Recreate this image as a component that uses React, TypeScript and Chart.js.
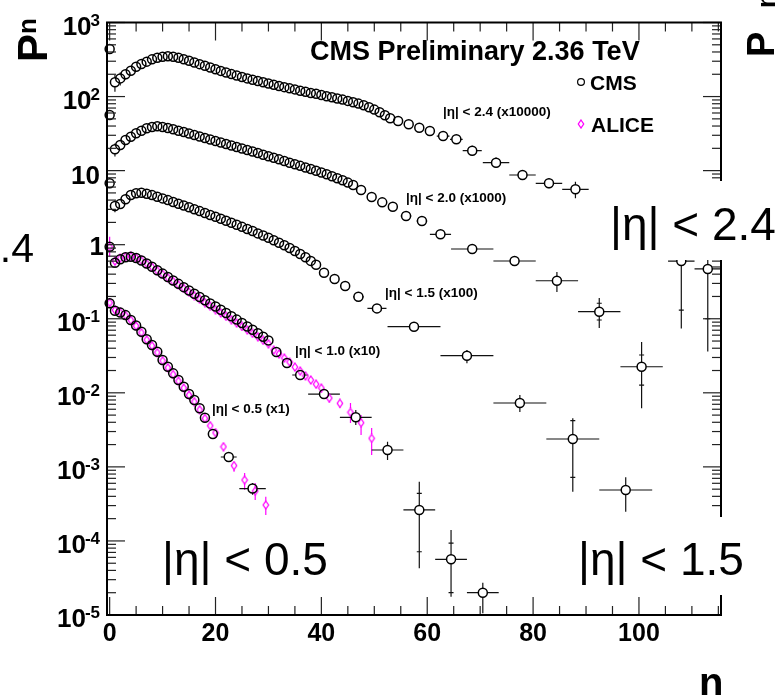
import React, { useEffect, useRef } from "react";
import { Chart, registerables } from "chart.js";

Chart.register(...registerables);

// Each row: [n, P(n), bin half-width, total low, total high, stat low, stat high]
type Pt = number[];

const FONT = '"Liberation Sans", Arial, Helvetica, sans-serif';

const xTickValues = [0, 20, 40, 60, 80, 100];
const yExponents = [-5, -4, -3, -2, -1, 0, 1, 2, 3];

// CMS |eta| < 2.4, scaled x10000
const cms24: Pt[] = [
  [0, 439], [1, 156, 0, 116, 195], [2, 176, 0, 141, 211], [3, 200, 0, 170, 230],
  [4, 223, 0, 197, 250], [5, 253, 0, 228, 278], [6, 275, 0, 253, 297], [7, 296, 0, 278, 314],
  [8, 318], [9, 335], [10, 345], [11, 350], [12, 344], [13, 334], [14, 319], [15, 304],
  [16, 289], [17, 274], [18, 260], [19, 247], [20, 234], [21, 222], [22, 211], [23, 201],
  [24, 192], [25, 184], [26, 176], [27, 169], [28, 162], [29, 156], [30, 150], [31, 144],
  [32, 139], [33, 134], [34, 129], [35, 125], [36, 120], [37, 116], [38, 112], [39, 109],
  [40, 105], [41, 101], [42, 98.0], [43, 94.4], [44, 91.0], [45, 87.4], [46, 83.9], [47, 80.3],
  [48, 76.4], [49, 71.8], [50, 66.7], [51, 61.3], [52, 56.0], [53, 50.9],
  [54.5, 46.8], [56.5, 42.2], [58.5, 38.0], [60.5, 34.3], [63, 29.3, 1.2], [65.5, 26.5, 1.2],
  [68.5, 18.6, 1.8, 15.9, 21.7], [73, 12.8, 2.5, 11.0, 15.0], [78, 8.73, 2.5, 7.5, 10.2],
  [83, 6.74, 2.5, 5.8, 7.9], [88, 5.59, 2.5, 4.23, 7.09],
  [108, 0.6, 2.5, 0.074, 1.6, 0.131, 1.2], [113, 0.47, 2.5, 0.036, 1.4, 0.1, 1.0],
];

// CMS |eta| < 2.0, scaled x1000
const cms20: Pt[] = [
  [0, 56.4], [1, 19.4, 0, 15.5, 23.3], [2, 22.2, 0, 18.8, 25.6], [3, 25.9, 0, 23.0, 29.0],
  [4, 28.7, 0, 26.5, 31.0], [5, 31.9], [6, 34.6], [7, 37.3], [8, 38.8], [9, 39.7], [10, 38.8],
  [11, 37.6], [12, 36.1], [13, 34.6], [14, 33.2], [15, 31.7], [16, 30.3], [17, 28.9], [18, 27.6],
  [19, 26.3], [20, 25.1], [21, 24.0], [22, 22.9], [23, 21.8], [24, 20.8], [25, 19.9], [26, 19.0],
  [27, 18.1], [28, 17.3], [29, 16.4], [30, 15.6], [31, 14.9], [32, 14.2], [33, 13.5], [34, 12.8],
  [35, 12.2], [36, 11.6], [37, 11.0], [38, 10.5], [39, 9.98], [40, 9.43], [41, 8.92], [42, 8.41],
  [43, 7.9], [44, 7.4], [45, 6.89], [46, 6.4],
  [47.5, 5.47], [49.5, 4.4], [51.5, 3.73], [53.5, 3.26], [56, 2.44, 1], [59, 2.09, 1], [62.5, 1.38, 2],
  [68.5, 0.874, 4, 0.8, 0.95], [76.5, 0.602, 4, 0.53, 0.68], [84.5, 0.326, 4, 0.23, 0.428],
  [92.5, 0.1245, 4, 0.075, 0.19, 0.0962, 0.162], [100.5, 0.0225, 4, 0.0062, 0.0485, 0.0127, 0.0324],
];

// CMS |eta| < 1.5, scaled x100
const cms15: Pt[] = [
  [0, 6.74], [1, 3.33, 0, 2.75, 3.95], [2, 3.54, 0, 3.1, 4.0], [3, 4.1, 0, 3.8, 4.4], [4, 4.69],
  [5, 4.94], [6, 5.03], [7, 4.88], [8, 4.67], [9, 4.44], [10, 4.22], [11, 4.0], [12, 3.78],
  [13, 3.58], [14, 3.38], [15, 3.2], [16, 3.01], [17, 2.84], [18, 2.68], [19, 2.52], [20, 2.38],
  [21, 2.24], [22, 2.11], [23, 1.98], [24, 1.86], [25, 1.74], [26, 1.63], [27, 1.53], [28, 1.42],
  [29, 1.33], [30, 1.24], [31, 1.15], [32, 1.06], [33, 0.981], [34, 0.902], [35, 0.824],
  [36, 0.748], [37, 0.675], [38, 0.604], [39, 0.537],
  [40.5, 0.419], [42.5, 0.344], [44.5, 0.277], [47, 0.198, 1], [50.5, 0.138, 1.8],
  [57.5, 0.0781, 5, 0.071, 0.086], [67.5, 0.0317, 5, 0.025, 0.0378], [77.5, 0.00728, 5, 0.0055, 0.00934],
  [87.5, 0.00238, 5, 0.000462, 0.00453, 0.000723, 0.0042], [97.5, 0.000487, 5, 0.000248, 0.000723],
];

// CMS |eta| < 1.0, scaled x10
const cms10: Pt[] = [
  [0, 0.939], [1, 0.571], [2, 0.635], [3, 0.675], [4, 0.688], [5, 0.661], [6, 0.612], [7, 0.557],
  [8, 0.503], [9, 0.452], [10, 0.407], [11, 0.366], [12, 0.329], [13, 0.296], [14, 0.267],
  [15, 0.241], [16, 0.217], [17, 0.197], [18, 0.178], [19, 0.161], [20, 0.146], [21, 0.132],
  [22, 0.1195], [23, 0.108], [24, 0.0974], [25, 0.0876], [26, 0.0788], [27, 0.0709], [28, 0.0636],
  [29, 0.057], [30, 0.051],
  [31.5, 0.0356], [33.5, 0.0253], [36, 0.0174, 1.5], [40.5, 0.00963, 3, 0.0085, 0.0109],
  [46.5, 0.00467, 3, 0.00368, 0.00586], [52.5, 0.00169, 3, 0.00124, 0.00219],
  [58.5, 0.000262, 3, 0.0000427, 0.00063, 0.0000715, 0.00044],
  [64.5, 0.0000565, 3, 0.0000177, 0.00014, 0.00002, 0.0000937],
  [70.5, 0.00002, 3, 0.0000106, 0.0000273],
];

// CMS |eta| < 0.5
const cms05: Pt[] = [
  [0, 0.162], [1, 0.128], [2, 0.121], [3, 0.112], [4, 0.0962], [5, 0.081], [6, 0.0668],
  [7, 0.0528], [8, 0.0442], [9, 0.0359], [10, 0.0277], [11, 0.0225], [12, 0.0183], [13, 0.0149],
  [14, 0.0121], [15, 0.00963], [16, 0.00799], [17, 0.00618], [18, 0.00461],
  [19.5, 0.00278], [22.5, 0.00136, 1.5, 0.00122, 0.00151], [27, 0.00051, 2.5, 0.00042, 0.000605],
];

// ALICE |eta| < 1.0, scaled x10
const alice10: Pt[] = [
  [0, 0.93, 0, 0.69, 1.28], [1, 0.6, 0, 0.55, 0.65], [2, 0.655, 0, 0.62, 0.69], [3, 0.69, 0, 0.66, 0.72],
  [4, 0.695], [5, 0.665], [6, 0.612], [7, 0.555], [8, 0.5], [9, 0.447], [10, 0.4], [11, 0.358],
  [12, 0.321], [13, 0.287], [14, 0.257], [15, 0.229, 0, 0.22, 0.238], [16, 0.205, 0, 0.197, 0.213],
  [17, 0.184, 0, 0.177, 0.191], [18, 0.165, 0, 0.158, 0.172], [19, 0.148, 0, 0.142, 0.154],
  [20, 0.133, 0, 0.127, 0.139], [21, 0.12, 0, 0.115, 0.125], [22, 0.108, 0, 0.103, 0.113],
  [23, 0.097, 0, 0.092, 0.102], [24, 0.0875, 0, 0.083, 0.092], [25, 0.0787, 0, 0.0745, 0.0829],
  [26, 0.0708, 0, 0.067, 0.0746], [27, 0.0636, 0, 0.0601, 0.0671], [28, 0.0571, 0, 0.0539, 0.0603],
  [29, 0.0512, 0, 0.0483, 0.0541], [30, 0.0459, 0, 0.0435, 0.0485], [31, 0.0378, 0, 0.0355, 0.0402],
  [32, 0.0334, 0, 0.0312, 0.0357], [33, 0.0295, 0, 0.0274, 0.0317], [34, 0.0261, 0, 0.0241, 0.0282],
  [35, 0.0223, 0, 0.0205, 0.0242], [36, 0.0197, 0, 0.0179, 0.0216], [37, 0.0169, 0, 0.0152, 0.0187],
  [38, 0.0149, 0, 0.0133, 0.0166], [39, 0.0131, 0, 0.0115, 0.0148], [40, 0.0116, 0, 0.0101, 0.0132],
  [41.5, 0.00851, 0, 0.0074, 0.0097], [43.5, 0.00721, 0, 0.0062, 0.008], [45.5, 0.00545, 0, 0.0039, 0.0073],
  [47.5, 0.00395, 0, 0.0027, 0.005], [49.5, 0.00243, 0, 0.00145, 0.00335],
];

// ALICE |eta| < 0.5
const alice05: Pt[] = [
  [0, 0.165], [1, 0.131], [2, 0.122], [3, 0.111], [4, 0.0955], [5, 0.08], [6, 0.065], [7, 0.052],
  [8, 0.0432], [9, 0.035], [10, 0.0271], [11, 0.0218], [12, 0.0177], [13, 0.0144], [14, 0.0116],
  [15, 0.0093], [16, 0.0076], [17, 0.0059, 0, 0.0055, 0.0063], [18, 0.0045, 0, 0.0042, 0.0048],
  [19, 0.0036, 0, 0.0033, 0.0039], [20, 0.0029, 0, 0.0027, 0.0032], [21.5, 0.00187, 0, 0.00168, 0.00207],
  [23.5, 0.00104, 0, 0.00086, 0.00117], [25.5, 0.000665, 0, 0.000487, 0.000826],
  [27.5, 0.000472, 0, 0.000357, 0.000605], [29.5, 0.000306, 0, 0.000224, 0.000395],
];

const cmsSeries = [cms24, cms20, cms15, cms10, cms05];
const aliceSeries = [alice10, alice05];

const seriesNames = [
  "|η| < 2.4 (x10000)",
  "|η| < 2.0 (x1000)",
  "|η| < 1.5 (x100)",
  "|η| < 1.0 (x10)",
  "|η| < 0.5 (x1)",
];
const titleText = "CMS Preliminary 2.36 TeV";
const legendNames = ["CMS", "ALICE"];
const panelNames = ["|η| < 2.4", "|η| < 0.5", "|η| < 1.5"];

const MAGENTA = "#ff00ff";

function makeDiamond(): HTMLCanvasElement {
  const c = document.createElement("canvas");
  c.width = 8;
  c.height = 10;
  const g = c.getContext("2d")!;
  g.strokeStyle = MAGENTA;
  g.lineWidth = 1.3;
  g.beginPath();
  g.moveTo(4, 1.0);
  g.lineTo(6.7, 5);
  g.lineTo(4, 9.0);
  g.lineTo(1.3, 5);
  g.closePath();
  g.stroke();
  return c;
}

function seg(ctx: CanvasRenderingContext2D, x1: number, y1: number, x2: number, y2: number) {
  ctx.beginPath();
  ctx.moveTo(x1, y1);
  ctx.lineTo(x2, y2);
  ctx.stroke();
}

function drawErrors(ctx: CanvasRenderingContext2D, xs: any, ys: any, rows: Pt[], color: string, gx: number, gy: number) {
  ctx.strokeStyle = color;
  ctx.lineWidth = 1.2;
  for (const r of rows) {
    const [n, p, dx, lo, hi, cLo, cHi] = r;
    const px = xs.getPixelForValue(n);
    const py = ys.getPixelForValue(p);
    if (dx) {
      const l = xs.getPixelForValue(n - dx);
      const rr = xs.getPixelForValue(n + dx);
      if (px - gx > l) seg(ctx, l, py, px - gx, py);
      if (rr > px + gx) seg(ctx, px + gx, py, rr, py);
    }
    if (lo && hi) {
      const top = ys.getPixelForValue(hi);
      const bot = ys.getPixelForValue(lo);
      if (top < py - gy) seg(ctx, px, top, px, py - gy);
      if (bot > py + gy) seg(ctx, px, py + gy, px, bot);
    }
    for (const c of [cLo, cHi]) {
      if (c) {
        const cy = ys.getPixelForValue(c);
        seg(ctx, px - 2.5, cy, px + 2.5, cy);
      }
    }
  }
}

function txt(ctx: CanvasRenderingContext2D, s: string, x: number, y: number, font: string, align: CanvasTextAlign = "left", color = "#000") {
  ctx.font = font;
  ctx.textAlign = align;
  ctx.textBaseline = "alphabetic";
  ctx.fillStyle = color;
  ctx.fillText(s, x, y);
}

function rotatedText(ctx: CanvasRenderingContext2D, s: string, x: number, y: number, font: string) {
  ctx.save();
  ctx.translate(x, y);
  ctx.rotate(-Math.PI / 2);
  txt(ctx, s, 0, 0, font);
  ctx.restore();
}

function makePlugin(diamond: HTMLCanvasElement) {
  return {
    id: "rootStyle",
    beforeDatasetsDraw(chart: any) {
      const { ctx, chartArea: a, scales } = chart;
      ctx.save();
      ctx.beginPath();
      ctx.rect(a.left, a.top, a.right - a.left, a.bottom - a.top);
      ctx.clip();
      for (const s of aliceSeries) drawErrors(ctx, scales.x, scales.y, s, MAGENTA, 2.7, 4);
      for (const s of cmsSeries) drawErrors(ctx, scales.x, scales.y, s, "#111", 4.5, 4.5);
      ctx.restore();
    },
    afterDatasetsDraw(chart: any) {
      const { ctx, chartArea: a, scales } = chart;
      const xs = scales.x;
      const ys = scales.y;
      ctx.save();

      // inward ticks on all four sides
      ctx.strokeStyle = "#222";
      ctx.lineWidth = 1.2;
      for (let v = 0; v <= 115; v += 5) {
        const px = xs.getPixelForValue(v);
        const len = v % 20 === 0 ? 18 : 9;
        seg(ctx, px, a.bottom, px, a.bottom - len);
        seg(ctx, px, a.top, px, a.top + len);
      }
      for (const e of yExponents) {
        const py = ys.getPixelForValue(Math.pow(10, e));
        seg(ctx, a.left, py, a.left + 18, py);
        seg(ctx, a.right, py, a.right - 18, py);
        if (e < 3) {
          for (let m = 2; m <= 9; m++) {
            const pm = ys.getPixelForValue(m * Math.pow(10, e));
            seg(ctx, a.left, pm, a.left + 9, pm);
            seg(ctx, a.right, pm, a.right - 9, pm);
          }
        }
      }

      // frame
      ctx.strokeStyle = "#000";
      ctx.lineWidth = 2;
      ctx.strokeRect(a.left, a.top, a.right - a.left, a.bottom - a.top);

      // y tick labels with exponents
      const base = `bold 26px ${FONT}`;
      const sup = `bold 17px ${FONT}`;
      for (const e of yExponents) {
        const py = ys.getPixelForValue(Math.pow(10, e));
        if (e === 0) {
          txt(ctx, "1", 104, py + 10, base, "right");
        } else if (e === 1) {
          txt(ctx, "10", 100, py + 13, base, "right");
        } else {
          ctx.font = sup;
          const s = String(e);
          const w = ctx.measureText(s).width;
          txt(ctx, "10", 100 - w + 1, py + 12.3, base, "right");
          txt(ctx, s, 100 - w, py + 3.2, sup, "left");
        }
      }

      // title and legend
      txt(ctx, titleText, 310, 59.5, `bold 27px ${FONT}`);
      ctx.strokeStyle = "#000";
      ctx.lineWidth = 1.2;
      ctx.beginPath();
      ctx.arc(581, 82, 3.4, 0, Math.PI * 2);
      ctx.stroke();
      txt(ctx, legendNames[0], 590, 89.5, `bold 21px ${FONT}`);
      ctx.drawImage(diamond, 577, 119);
      txt(ctx, legendNames[1], 591, 131.7, `bold 21px ${FONT}`);

      // per-curve labels
      const lab = `bold 13.5px ${FONT}`;
      txt(ctx, seriesNames[0], 443, 116, lab);
      txt(ctx, seriesNames[1], 406, 202, lab);
      txt(ctx, seriesNames[2], 385, 297, lab);
      txt(ctx, seriesNames[3], 295, 355, lab);
      txt(ctx, seriesNames[4], 212, 413, lab);

      // large panel captions on white boxes
      ctx.fillStyle = "#fff";
      ctx.fillRect(600, 181, 176, 79);
      ctx.fillRect(568, 517, 208, 78);
      ctx.fillRect(152, 517, 192, 78);
      const big = `46px ${FONT}`;
      txt(ctx, panelNames[0], 610, 240, big);
      txt(ctx, panelNames[1], 162, 575, big);
      txt(ctx, panelNames[2], 578, 575, big);
      txt(ctx, panelNames[0], 34, 262, `41px ${FONT}`, "right");

      // axis titles
      rotatedText(ctx, "P", 47, 62, `bold 42px ${FONT}`);
      rotatedText(ctx, "n", 36, 34, `bold 26px ${FONT}`);
      rotatedText(ctx, "P", 774, 57, `bold 38px ${FONT}`);
      rotatedText(ctx, "n", 775, 8, `bold 26px ${FONT}`);
      txt(ctx, "n", 699, 696, `bold 40px ${FONT}`);

      ctx.restore();
    },
  };
}

export default function App() {
  const ref = useRef<HTMLCanvasElement | null>(null);

  useEffect(() => {
    if (!ref.current) return;
    const diamond = makeDiamond();
    const toXY = (rows: Pt[]) => rows.map((r) => ({ x: r[0], y: r[1] }));
    const circleSet = (rows: Pt[]) => ({
      data: toXY(rows),
      pointStyle: "circle",
      pointRadius: 4.5,
      pointBorderWidth: 1.5,
      pointBorderColor: "#000",
      pointBackgroundColor: "rgba(0,0,0,0)",
      showLine: false,
      clip: false,
    });
    const diamondSet = (rows: Pt[]) => ({
      data: toXY(rows),
      pointStyle: diamond,
      pointRadius: 3.5,
      showLine: false,
      clip: false,
    });

    const chart = new Chart(ref.current, {
      type: "scatter",
      data: {
        datasets: [
          ...cmsSeries.map(circleSet),
          ...aliceSeries.map(diamondSet),
        ] as any,
      },
      options: {
        animation: false,
        responsive: false,
        devicePixelRatio: 1,
        events: [],
        layout: { padding: { left: 107, right: 55, top: 22.5, bottom: 0 } },
        plugins: { legend: { display: false }, tooltip: { enabled: false } },
        scales: {
          x: {
            type: "linear",
            min: -0.5,
            max: 115.5,
            afterBuildTicks: (s: any) => {
              s.ticks = xTickValues.map((v) => ({ value: v }));
            },
            afterFit: (s: any) => {
              s.height = 80;
            },
            grid: { display: false, drawTicks: false },
            border: { display: false },
            ticks: {
              autoSkip: false,
              maxRotation: 0,
              padding: 4,
              color: "#000",
              font: { family: FONT, size: 25, weight: "bold" },
              callback: (v: any) => String(v),
            },
          },
          y: {
            type: "logarithmic",
            min: 1e-5,
            max: 1e3,
            display: false,
          },
        },
      } as any,
      plugins: [makePlugin(diamond)],
    });
    return () => chart.destroy();
  }, []);

  return (
    <div style={{ position: "absolute", left: 0, top: 0, width: 776, height: 695, background: "#fff" }}>
      <canvas ref={ref} width={776} height={695} style={{ width: 776, height: 695, display: "block" }} />
    </div>
  );
}
